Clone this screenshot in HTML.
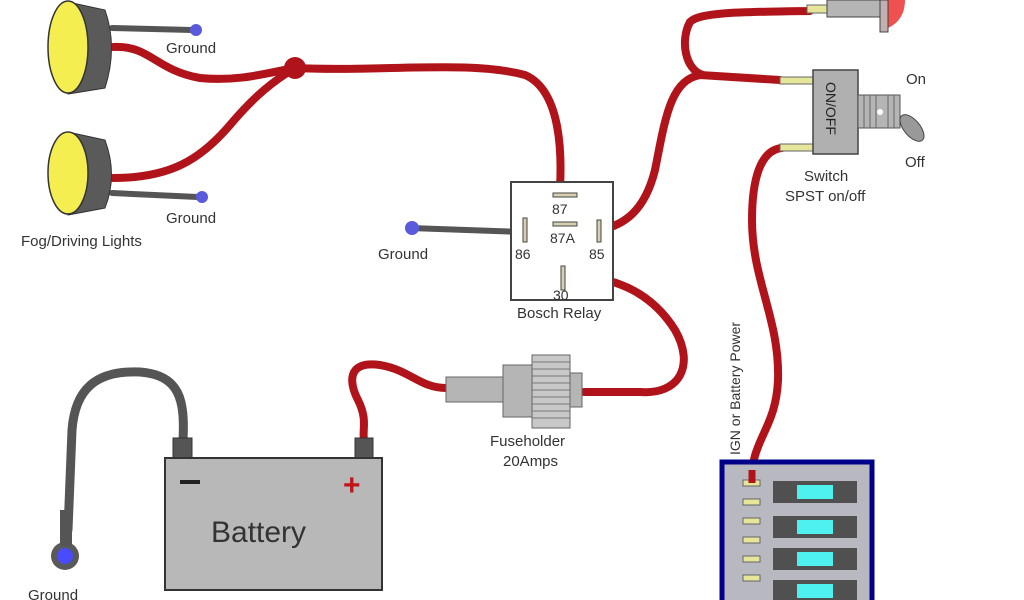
<!DOCTYPE html>
<html><head><meta charset="utf-8"><style>
html,body{margin:0;padding:0;background:#fff;width:1024px;height:600px;overflow:hidden}
svg{display:block}
text{font-family:"Liberation Sans",sans-serif;fill:#333}
</style></head><body>
<svg width="1024" height="600" viewBox="0 0 1024 600" xmlns="http://www.w3.org/2000/svg">
<g fill="none" stroke-linecap="round" stroke-linejoin="round">
<!-- ground wires (gray) -->
<path d="M112,28 L192,30" stroke="#555" stroke-width="6"/>
<path d="M112,193 L198,197" stroke="#555" stroke-width="6"/>
<path d="M410,228 L522,232" stroke="#555" stroke-width="6"/>
<path d="M183,440 C185,400 180,375 140,372 C95,370 75,390 72,430 L68,530" stroke="#555" stroke-width="9"/>
<!-- red wires -->
<g stroke="#b0141a" stroke-width="8">
<path d="M113,47 C150,45 155,70 200,78 C240,82 270,72 295,68"/>
<path d="M113,178 C170,178 200,160 230,125 C255,95 275,80 295,68"/>
<path d="M295,68 C380,72 470,60 525,75 C560,90 562,150 560,188"/>
<path d="M600,230 C625,225 645,210 655,170 C665,120 670,80 700,75 L780,80"/>
<path d="M703,75 C685,70 680,40 690,22 C700,12 740,12 810,11"/>
<path d="M782,148 C760,150 752,180 752,220 C752,280 780,320 778,380 C776,430 750,440 752,483"/>
<path d="M567,276 C610,275 650,290 675,330 C695,365 680,395 640,392 L584,392"/>
<path d="M446,388 C420,388 410,370 380,365 C345,360 350,385 358,400 C368,420 362,430 364,440"/>
</g>
</g>
<!-- fog lights -->
<path d="M68,2 L105,10 Q118,47 105,88 L68,94 Z" fill="#5a5a5a" stroke="#333"/>
<ellipse cx="68" cy="47" rx="20" ry="46" fill="#f5ee50" stroke="#333" stroke-width="1.5"/>
<path d="M68,132 L105,140 Q118,175 105,208 L68,215 Z" fill="#5a5a5a" stroke="#333"/>
<ellipse cx="68" cy="173" rx="20" ry="41" fill="#f5ee50" stroke="#333" stroke-width="1.5"/>
<circle cx="196" cy="30" r="6" fill="#5a5adc"/>
<circle cx="202" cy="197" r="6" fill="#5a5adc"/>
<circle cx="295" cy="68" r="11" fill="#b0141a"/>
<circle cx="412" cy="228" r="7" fill="#5a5adc"/>
<text x="166" y="53" font-size="15">Ground</text>
<text x="166" y="223" font-size="15">Ground</text>
<text x="21" y="246" font-size="15">Fog/Driving Lights</text>
<text x="378" y="259" font-size="15">Ground</text>
<!-- relay -->
<rect x="511" y="182" width="102" height="118" fill="#fff" stroke="#444" stroke-width="2"/>
<g fill="#d8d0b0" stroke="#444">
<rect x="553" y="193" width="24" height="4"/>
<rect x="553" y="222" width="24" height="4"/>
<rect x="523" y="218" width="4" height="24"/>
<rect x="597" y="220" width="4" height="22"/>
<rect x="561" y="266" width="4" height="24"/>
</g>
<text x="552" y="214" font-size="14">87</text>
<text x="550" y="243" font-size="14">87A</text>
<text x="515" y="259" font-size="14">86</text>
<text x="589" y="259" font-size="14">85</text>
<text x="553" y="300" font-size="14">30</text>
<text x="517" y="318" font-size="15">Bosch Relay</text>
<!-- fuseholder -->
<rect x="446" y="377" width="58" height="25" fill="#b5b5b5" stroke="#666"/>
<rect x="503" y="365" width="30" height="52" fill="#b5b5b5" stroke="#666"/>
<rect x="532" y="355" width="38" height="73" fill="#c8c8c8" stroke="#666"/>
<g stroke="#777" stroke-width="1">
<line x1="532" y1="362" x2="570" y2="362"/><line x1="532" y1="369" x2="570" y2="369"/><line x1="532" y1="376" x2="570" y2="376"/><line x1="532" y1="383" x2="570" y2="383"/><line x1="532" y1="390" x2="570" y2="390"/><line x1="532" y1="397" x2="570" y2="397"/><line x1="532" y1="404" x2="570" y2="404"/><line x1="532" y1="411" x2="570" y2="411"/><line x1="532" y1="418" x2="570" y2="418"/>
</g>
<rect x="570" y="373" width="12" height="34" fill="#b5b5b5" stroke="#666"/>
<text x="490" y="446" font-size="15">Fuseholder</text>
<text x="503" y="466" font-size="15">20Amps</text>
<!-- battery -->
<rect x="173" y="438" width="19" height="21" fill="#555" stroke="#333"/>
<rect x="355" y="438" width="18" height="21" fill="#555" stroke="#333"/>
<rect x="165" y="458" width="217" height="132" fill="#b8b8b8" stroke="#333" stroke-width="2"/>
<rect x="180" y="480" width="20" height="4" fill="#222"/>
<text x="343" y="495" font-size="30" font-weight="bold" style="fill:#c0141a">+</text>
<text x="211" y="542" font-size="30">Battery</text>
<circle cx="65" cy="556" r="14" fill="#5a5a5a"/>
<circle cx="65" cy="556" r="8" fill="#4a4aff"/>
<rect x="60" y="510" width="12" height="36" fill="#555"/>
<text x="28" y="600" font-size="15">Ground</text>
<!-- indicator light -->
<rect x="807" y="5" width="20" height="8" fill="#e6e69a" stroke="#666"/>
<rect x="827" y="0" width="53" height="17" fill="#b5b5b5" stroke="#444"/>
<path d="M888,0 L905,0 Q905,20 888,28 Z" fill="#f05050"/>
<rect x="880" y="0" width="8" height="32" fill="#c0b0b0" stroke="#444"/>
<!-- switch -->
<rect x="780" y="77" width="33" height="7" fill="#e6e69a" stroke="#666"/>
<rect x="780" y="144" width="33" height="7" fill="#e6e69a" stroke="#666"/>
<rect x="813" y="70" width="45" height="84" fill="#b0b0b0" stroke="#444" stroke-width="1.5"/>
<text transform="translate(826,82) rotate(90)" font-size="14" style="fill:#222">ON/OFF</text>
<rect x="858" y="95" width="42" height="33" fill="#b5b5b5" stroke="#555"/>
<g stroke="#666"><line x1="864" y1="95" x2="864" y2="128"/><line x1="870" y1="95" x2="870" y2="128"/><line x1="876" y1="95" x2="876" y2="128"/><line x1="888" y1="95" x2="888" y2="128"/><line x1="894" y1="95" x2="894" y2="128"/></g>
<circle cx="880" cy="112" r="3" fill="#fff"/>
<ellipse cx="912" cy="128" rx="8" ry="16" transform="rotate(-40 912 128)" fill="#999" stroke="#444"/>
<text x="906" y="84" font-size="15">On</text>
<text x="905" y="167" font-size="15">Off</text>
<text x="804" y="181" font-size="15">Switch</text>
<text x="785" y="201" font-size="15">SPST on/off</text>
<text transform="translate(740,455) rotate(-90)" font-size="14">IGN or Battery Power</text>
<!-- fuse box -->
<rect x="722" y="462" width="150" height="145" fill="#b8b8c0" stroke="#00008b" stroke-width="5"/>
<g fill="#e6e69a" stroke="#666">
<rect x="743" y="480" width="17" height="6"/><rect x="743" y="499" width="17" height="6"/><rect x="743" y="518" width="17" height="6"/><rect x="743" y="537" width="17" height="6"/><rect x="743" y="556" width="17" height="6"/><rect x="743" y="575" width="17" height="6"/>
</g>
<g fill="#505050">
<rect x="773" y="481" width="84" height="22"/><rect x="773" y="516" width="84" height="22"/><rect x="773" y="548" width="84" height="22"/><rect x="773" y="580" width="84" height="22"/>
</g>
<g fill="#4ff0f0">
<rect x="797" y="485" width="36" height="14"/><rect x="797" y="520" width="36" height="14"/><rect x="797" y="552" width="36" height="14"/><rect x="797" y="584" width="36" height="14"/>
</g>
<path d="M752,470 L752,483" stroke="#b0141a" stroke-width="7"/>
</svg>
</body></html>
